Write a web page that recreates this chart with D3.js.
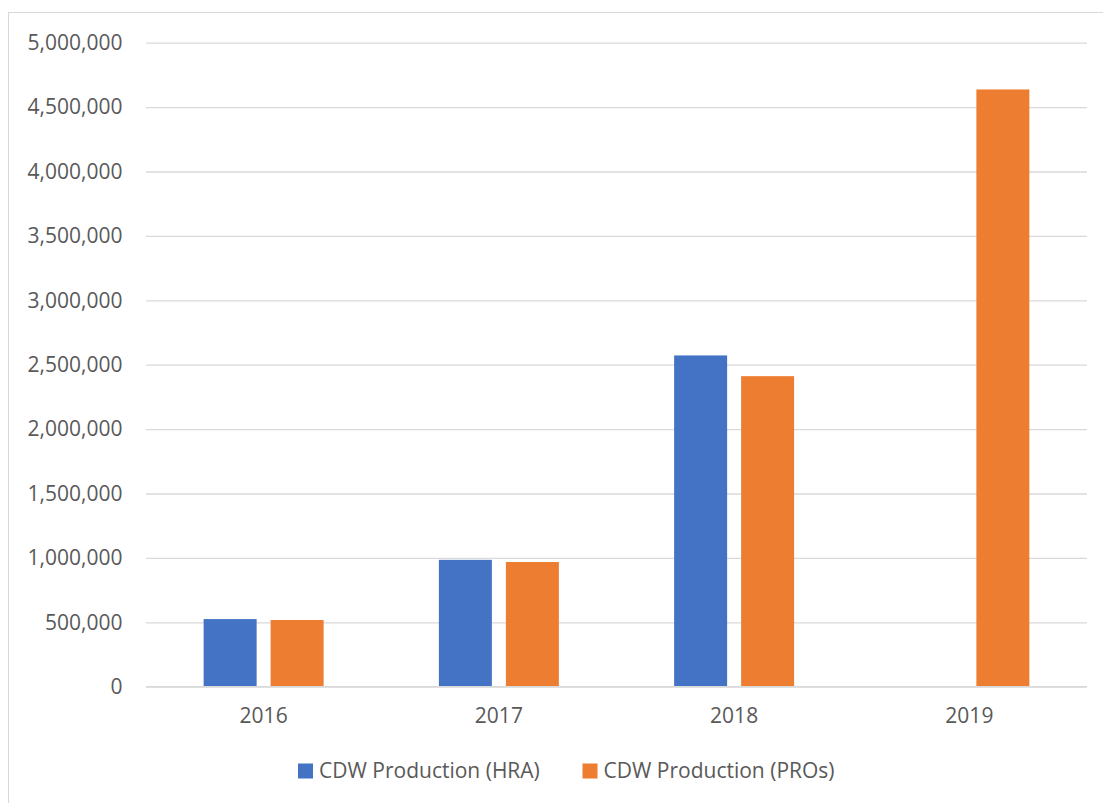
<!DOCTYPE html>
<html>
<head>
<meta charset="utf-8">
<script src="https://cdn.jsdelivr.net/npm/d3@7/dist/d3.min.js"></script>
<style>
  html, body { margin: 0; padding: 0; background: #fff; }
  svg { display: block; }
  text { font-family: "Open Sans", "Noto Sans", sans-serif; fill: #595959; }
</style>
</head>
<body>
<svg id="chart" width="1103" height="803"></svg>
<script>
// CDW production by year, two reporting sources
const years = ["2016", "2017", "2018", "2019"];
const seriesNames = ["CDW Production (HRA)", "CDW Production (PROs)"];
const hraValues = [525000, 985000, 2572000, null];
const proValues = [518000, 968000, 2411000, 4637000];
const yTicks = [0, 500000, 1000000, 1500000, 2000000, 2500000, 3000000, 3500000, 4000000, 4500000, 5000000];
const seriesColors = ["#4472C4", "#ED7D31"];

const svg = d3.select("#chart");
const W = 1103, H = 803;
const plot = { left: 146, right: 1087, top: 42.7, bottom: 686.7 };
const fontSize = "21px";

// chart frame (only its left and top edges fall inside the page)
svg.append("rect")
  .attr("x", 8.5).attr("y", 12.5)
  .attr("width", W + 20).attr("height", H + 20)
  .attr("fill", "none").attr("stroke", "#d9d9d9").attr("stroke-width", 1);

const y = d3.scaleLinear().domain([0, 5000000]).range([plot.bottom, plot.top]);
const x0 = d3.scaleBand().domain(years).range([plot.left, plot.right])
  .paddingInner(0.49).paddingOuter(0.245);
const x1 = d3.scaleBand().domain(seriesNames).range([0, x0.bandwidth()])
  .paddingInner(0.209).paddingOuter(0);

// gridlines and y labels
const fmt = d3.format(",");
const yAxis = d3.axisLeft(y).tickValues(yTicks).tickFormat(fmt)
  .tickSize(-(plot.right - plot.left)).tickPadding(23.5);
const gy = svg.append("g").attr("transform", `translate(${plot.left},0)`).call(yAxis);
gy.select(".domain").remove();
gy.selectAll(".tick line").attr("stroke", "#d9d9d9").attr("stroke-width", 1.3);
gy.selectAll(".tick text").attr("fill", "#595959").style("font-size", fontSize)
  .attr("font-family", null);

// bars
const rows = years.map((yr, i) => ({ year: yr, vals: [hraValues[i], proValues[i]] }));
const groups = svg.append("g").selectAll("g").data(rows).join("g")
  .attr("transform", d => `translate(${x0(d.year)},0)`);
groups.selectAll("rect")
  .data(d => d.vals.map((v, k) => ({ name: seriesNames[k], value: v, k })).filter(e => e.value != null))
  .join("rect")
  .attr("x", e => x1(e.name))
  .attr("width", x1.bandwidth())
  .attr("y", e => y(e.value))
  .attr("height", e => y(0) - y(e.value))
  .attr("fill", e => seriesColors[e.k]);

// baseline redrawn above the bars
svg.append("line")
  .attr("x1", plot.left).attr("x2", plot.right)
  .attr("y1", y(0)).attr("y2", y(0))
  .attr("stroke", "#d9d9d9").attr("stroke-width", 1.3);

// x labels
const xAxis = d3.axisBottom(x0).tickSize(0).tickPadding(21);
const gx = svg.append("g").attr("transform", `translate(0,${plot.bottom})`).call(xAxis);
gx.select(".domain").remove();
gx.selectAll(".tick text").attr("fill", "#595959").style("font-size", fontSize)
  .attr("font-family", null);

// legend
const legend = svg.append("g").attr("transform", "translate(298,771)");
const legendX = [0, 284.5];
seriesNames.forEach((name, k) => {
  const g = legend.append("g").attr("transform", `translate(${legendX[k]},0)`);
  g.append("rect").attr("x", 0).attr("y", -7.5).attr("width", 15).attr("height", 15)
    .attr("fill", seriesColors[k]);
  g.append("text").attr("x", 21).attr("y", 0).attr("dy", "0.35em")
    .style("font-size", fontSize).text(name);
});
</script>
</body>
</html>
